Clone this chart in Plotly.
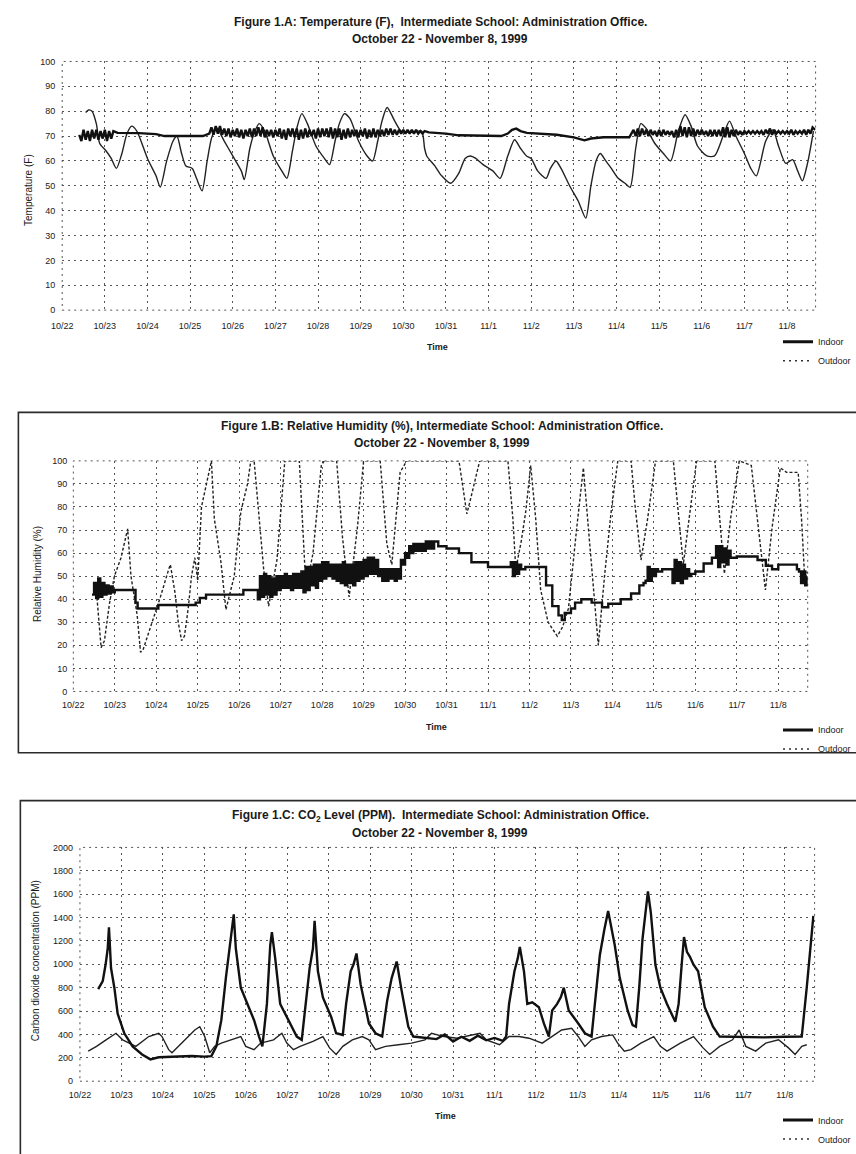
import plotly.graph_objects as go

# ---------------- data (time = days after Oct 22, 00:00) ----------------
DAY_TICKS = [0, 1, 2, 3, 4, 5, 6, 7, 8, 9, 10, 11, 12, 13, 14, 15, 16, 17]
DAY_LABELS = ["10/22", "10/23", "10/24", "10/25", "10/26", "10/27", "10/28", "10/29",
              "10/30", "10/31", "11/1", "11/2", "11/3", "11/4", "11/5", "11/6", "11/7", "11/8"]
TEMP_TICKS = [0, 10, 20, 30, 40, 50, 60, 70, 80, 90, 100]
RH_TICKS = [0, 10, 20, 30, 40, 50, 60, 70, 80, 90, 100]
CO2_TICKS = [0, 200, 400, 600, 800, 1000, 1200, 1400, 1600, 1800, 2000]

# logger readings in the jittery stretches are listed at this interval (days)
READING_STEP = 0.05

# Indoor temperature: slow stretches as (day, value); jittery stretches as (start day, readings)
TEMP_IN_SLOW = [
    (1.25, 71.5), (1.30, 71.3), (1.80, 71.2), (2.20, 70.8), (2.40, 70), (3.30, 70), (3.45, 71),
    (8.6, 71.5), (9.0, 71), (9.3, 70.3), (10.0, 70.2), (10.3, 70), (10.45, 71), (10.55, 72.5),
    (10.65, 73), (10.75, 72), (10.9, 71.3), (11.3, 71), (11.6, 70.5), (12.0, 69.5),
    (12.25, 68.3), (12.4, 69), (12.7, 69.5), (13.3, 69.5), (17.66, 72.5),
]
TEMP_IN_JITTER = [
    (0.40, [70.5, 68, 72.5, 68.5, 72, 68, 72.5, 69, 72.5, 68.5, 72, 69, 72.5, 68, 72, 69, 72]),
    (3.50, [73.5, 70.5, 74, 71, 74, 70.5, 73, 70, 73, 69.5,
            72.5, 70, 73, 69.5, 72.5, 69, 72.5, 70, 73, 69.5,
            73, 70, 73.5, 70, 73.5, 69.5, 72.5, 70, 72.5, 69.5,
            72.5, 70, 73, 69, 72.5, 68.5, 73, 70, 73, 69.5,
            73, 68.5, 72.5, 69, 73, 69.5, 72.5, 70, 72.5, 69,
            73, 69.5, 73, 70, 73, 69.5, 73.5, 69, 73, 69.5,
            73, 68.5, 72.5, 69, 73, 69.5, 72.5, 70, 72.5, 69.5,
            72.5, 70, 73, 69, 72.5, 69.5, 73, 69.5, 72.5, 70,
            72.5, 70, 73, 70.5, 73, 70.5, 72.5, 70.5, 72.5, 71,
            72.5, 71, 72.5, 71, 72.5, 71, 72.5, 71, 72, 71,
            72]),
    (13.40, [72.5, 70, 73, 70, 73, 70.5, 72.5, 70, 72.5, 70.5,
             72, 70, 72.5, 70, 72.5, 70.5, 72, 70.5, 72, 69.5,
             72.5, 69.5, 74, 70, 73.5, 69.5, 73.5, 70, 73, 70,
             72.5, 70.5, 72.5, 70.5, 72, 70, 72.5, 70, 72.5, 70,
             72.5, 70, 73.5, 69.5, 73.5, 69.5, 72.5, 70, 72.5, 70.5,
             72, 70.5, 72, 71, 72, 71, 72, 71, 72, 71,
             72, 70.5, 72.5, 71, 73, 70.5, 72.5, 71, 72, 71,
             72, 71, 72, 71, 72.5, 70.5, 72, 71, 72, 71,
             72.5, 70.5, 72.5, 71, 73.5]),
]

TEMP_OUTDOOR = [
    (0.55, 79.5), (0.62, 80.5), (0.70, 80), (0.80, 75), (0.88, 67), (1.03, 64), (1.15, 61),
    (1.27, 57), (1.40, 63), (1.52, 71), (1.63, 74), (1.75, 72), (2.0, 61), (2.2, 54), (2.3, 49.5),
    (2.45, 60), (2.6, 68), (2.69, 70), (2.8, 63), (2.9, 58), (3.05, 57), (3.15, 53), (3.28, 48),
    (3.4, 60), (3.5, 69), (3.61, 73.5), (3.8, 68), (4.0, 62), (4.2, 56), (4.27, 52.5), (4.4, 65),
    (4.52, 72), (4.62, 75), (4.75, 72), (4.95, 62), (5.15, 56), (5.27, 53), (5.4, 64), (5.5, 73),
    (5.62, 79), (5.75, 75), (5.95, 66), (6.15, 61), (6.27, 58.5), (6.4, 68), (6.5, 75), (6.62, 79),
    (6.75, 77), (6.95, 68), (7.15, 62), (7.28, 60), (7.4, 68), (7.5, 76), (7.62, 81.5), (7.8, 76),
    (7.95, 72), (8.2, 71.5), (8.43, 72), (8.5, 65), (8.55, 62), (8.74, 58), (8.9, 54), (9.11, 51),
    (9.3, 55), (9.45, 61), (9.57, 62), (9.7, 61), (9.87, 58.5), (10.1, 56), (10.27, 53),
    (10.45, 62), (10.61, 68.5), (10.75, 65), (10.89, 62), (11.0, 61), (11.15, 56), (11.35, 53),
    (11.45, 57), (11.58, 60), (11.7, 57), (11.9, 50), (12.1, 44), (12.28, 37), (12.4, 50),
    (12.52, 60), (12.62, 63), (12.75, 60), (12.88, 57), (13.04, 53), (13.2, 51), (13.32, 49.4),
    (13.45, 65), (13.57, 75), (13.7, 73), (13.9, 67), (14.1, 63), (14.27, 60), (14.45, 72),
    (14.61, 78.6), (14.75, 74), (14.9, 66), (15.12, 62), (15.3, 62), (15.5, 70), (15.65, 76),
    (15.8, 70), (16.0, 63), (16.15, 57), (16.28, 54), (16.5, 68), (16.67, 72.5), (16.8, 66),
    (16.97, 59), (17.13, 60.5), (17.25, 56), (17.36, 52), (17.48, 59), (17.62, 72),
]

RH_IN_SLOW = [
    (1.0, 44), (1.45, 44), (1.5, 38.5), (1.55, 36), (2.0, 36), (2.05, 37.5), (2.8, 37.5),
    (2.95, 38.5), (3.05, 40.5), (3.2, 42), (4.0, 42), (4.1, 44), (4.35, 44),
    (8.8, 63), (9.0, 62), (9.3, 60), (9.6, 56), (10.0, 54), (10.5, 54),
    (10.9, 54), (11.25, 54), (11.4, 46), (11.55, 37), (11.7, 33), (11.78, 31), (11.85, 34),
    (12.0, 36), (12.1, 38.5), (12.25, 40), (12.45, 40), (12.5, 38.5), (12.75, 36.5), (12.9, 38),
    (13.2, 40), (13.45, 42.5), (13.65, 46), (13.75, 47), (14.2, 53), (14.35, 53),
    (15.0, 52), (15.2, 55.5), (15.4, 58), (16.0, 58.5), (16.3, 58.5), (16.5, 57), (16.7, 54.5),
    (16.85, 53), (17.0, 55), (17.4, 55), (17.45, 53),
]
RH_IN_JITTER = [
    (0.45, [42, 47, 40.5, 49, 41, 47, 42, 46, 42.5, 45.5, 43]),
    (4.40, [44, 40, 50, 41, 51, 42, 50, 41, 49, 42,
            50, 44, 50, 45, 51, 45, 50, 44, 51, 45,
            51, 45, 52, 43, 54, 44, 54, 46, 55, 45,
            55, 48, 56, 49, 56, 50, 55, 49, 55, 48,
            55, 47, 56, 46, 55, 47, 55, 46, 56, 48,
            56, 49, 57, 50, 58, 51, 58, 51, 57, 50,
            53, 48, 53, 48, 53, 49, 53, 48, 53, 49,
            57, 55, 60, 58, 63, 60, 64, 61, 64, 61,
            64, 61, 65, 62, 65, 62, 65]),
    (10.55, [56, 50, 56, 51, 55, 53]),
    (13.80, [48, 54, 48, 53, 50, 53, 52]),
    (14.40, [53, 47, 57, 48, 56, 47, 55, 49, 53, 50, 51]),
    (15.45, [58, 63, 54, 63, 56, 62, 55, 61, 58]),
    (17.50, [52, 47, 52, 46, 50]),
]

RH_OUTDOOR = [
    (0.55, 45), (0.62, 30), (0.67, 19), (0.75, 22), (0.87, 38), (0.99, 50), (1.15, 58),
    (1.31, 70.5), (1.39, 50), (1.54, 33), (1.62, 17), (1.68, 18), (1.9, 30), (2.1, 41), (2.3, 53),
    (2.34, 55), (2.45, 43), (2.53, 30), (2.61, 22), (2.68, 24), (2.77, 36), (2.85, 50),
    (2.93, 58), (3.0, 48), (3.09, 80), (3.21, 90), (3.33, 100), (3.4, 75), (3.56, 56),
    (3.68, 35.5), (3.88, 50), (4.04, 78), (4.2, 90), (4.28, 100), (4.36, 100), (4.59, 53),
    (4.71, 37), (4.91, 57), (5.03, 85), (5.1, 100), (5.45, 100), (5.58, 55), (5.65, 48),
    (5.78, 60), (5.98, 98), (6.05, 100), (6.35, 100), (6.49, 67), (6.65, 41), (6.85, 71),
    (7.0, 100), (7.4, 100), (7.56, 64), (7.68, 55), (7.88, 95), (8.04, 100), (9.3, 100),
    (9.49, 77), (9.6, 85), (9.8, 100), (10.48, 100), (10.6, 75), (10.67, 53), (10.8, 65),
    (10.91, 78), (11.03, 98), (11.15, 75), (11.27, 44), (11.45, 30), (11.67, 24), (11.8, 28),
    (11.94, 36), (12.14, 71), (12.3, 97), (12.42, 71), (12.58, 36), (12.66, 20), (12.81, 50),
    (12.97, 78), (13.13, 100), (13.45, 100), (13.55, 80), (13.69, 57), (13.85, 75), (14.04, 100),
    (14.47, 100), (14.6, 75), (14.71, 55), (14.85, 75), (15.03, 100), (15.47, 100), (15.6, 70),
    (15.7, 51), (15.85, 75), (16.06, 100), (16.35, 98), (16.5, 75), (16.69, 44), (16.85, 71),
    (17.05, 97), (17.2, 95), (17.48, 95), (17.56, 75), (17.64, 48), (17.7, 52),
]

CO2_INDOOR = [
    (0.44, 787), (0.55, 856), (0.62, 1000), (0.67, 1135), (0.70, 1317), (0.75, 968), (0.83, 800),
    (0.91, 577), (1.07, 410), (1.27, 298), (1.5, 229), (1.7, 187), (1.9, 205), (2.3, 210),
    (2.7, 215), (3.0, 210), (3.17, 215), (3.29, 298), (3.41, 522), (3.52, 884), (3.64, 1219),
    (3.71, 1428), (3.76, 1135), (3.88, 800), (4.04, 661), (4.2, 522), (4.32, 382), (4.4, 298),
    (4.51, 661), (4.59, 1163), (4.63, 1275), (4.71, 1051), (4.83, 661), (5.03, 522), (5.23, 382),
    (5.35, 354), (5.47, 773), (5.54, 968), (5.62, 1135), (5.66, 1372), (5.74, 940), (5.86, 717),
    (6.06, 550), (6.18, 410), (6.34, 396), (6.42, 661), (6.53, 940), (6.6, 1000), (6.67, 1093),
    (6.77, 828), (6.97, 494), (7.13, 410), (7.29, 382), (7.41, 689), (7.52, 884), (7.58, 950),
    (7.64, 1024), (7.76, 773), (7.92, 466), (8.04, 382), (8.32, 368), (8.6, 360), (8.8, 400),
    (9.0, 340), (9.2, 380), (9.4, 345), (9.6, 390), (9.8, 350), (10.0, 370), (10.2, 345),
    (10.28, 382), (10.35, 661), (10.48, 940), (10.56, 1051), (10.61, 1149), (10.71, 940),
    (10.79, 661), (10.91, 675), (11.07, 633), (11.19, 494), (11.31, 382), (11.39, 605),
    (11.51, 661), (11.6, 720), (11.67, 800), (11.79, 605), (12.02, 494), (12.18, 410),
    (12.34, 382), (12.42, 661), (12.54, 1080), (12.65, 1300), (12.74, 1456), (12.9, 1163),
    (13.02, 884), (13.21, 605), (13.33, 480), (13.41, 466), (13.49, 800), (13.57, 1219),
    (13.65, 1498), (13.7, 1623), (13.77, 1442), (13.88, 996), (14.0, 800), (14.16, 661),
    (14.36, 508), (14.44, 661), (14.52, 1024), (14.57, 1233), (14.64, 1107), (14.71, 1066),
    (14.8, 996), (14.91, 940), (15.07, 633), (15.27, 466), (15.43, 382), (16.0, 380),
    (16.5, 375), (17.0, 380), (17.41, 382), (17.53, 800), (17.61, 1080), (17.69, 1414),
]

CO2_OUTDOOR = [
    (0.2, 257), (0.4, 298), (0.63, 354), (0.87, 410), (1.03, 354), (1.35, 298), (1.66, 382),
    (1.9, 410), (1.98, 382), (2.14, 270), (2.22, 243), (2.46, 326), (2.77, 438), (2.89, 466),
    (3.01, 382), (3.13, 243), (3.25, 298), (3.41, 326), (3.88, 382), (4.0, 298), (4.2, 270),
    (4.36, 326), (4.67, 354), (4.87, 410), (4.99, 326), (5.15, 270), (5.31, 298), (5.62, 340),
    (5.86, 382), (6.02, 285), (6.18, 229), (6.34, 298), (6.57, 354), (6.81, 382), (6.97, 354),
    (7.13, 270), (7.37, 298), (7.68, 312), (8.0, 326), (8.32, 354), (8.48, 410), (8.78, 382),
    (9.09, 368), (9.65, 410), (9.8, 354), (10.12, 312), (10.35, 382), (10.59, 382), (10.83, 368),
    (11.15, 326), (11.39, 382), (11.62, 438), (11.86, 452), (12.02, 382), (12.18, 298),
    (12.34, 354), (12.58, 382), (12.85, 396), (12.97, 326), (13.13, 257), (13.29, 270),
    (13.53, 326), (13.84, 382), (14.0, 298), (14.16, 257), (14.48, 326), (14.8, 382),
    (15.03, 285), (15.19, 229), (15.43, 298), (15.74, 354), (15.9, 438), (16.06, 298),
    (16.3, 257), (16.54, 326), (16.85, 354), (17.09, 285), (17.25, 229), (17.41, 298),
    (17.53, 312),
]

TITLES = [
    ("Figure 1.A: Temperature (F),  Intermediate School: Administration Office.",
     "October 22 - November 8, 1999"),
    ("Figure 1.B: Relative Humidity (%), Intermediate School: Administration Office.",
     "October 22 - November 8, 1999"),
    ("Figure 1.C: CO<sub>2</sub> Level (PPM).  Intermediate School: Administration Office.",
     "October 22 - November 8, 1999"),
]
Y_TITLES = ["Temperature (F)", "Relative Humidity (%)", "Carbon dioxide concentration (PPM)"]
X_TITLE = "Time"
SERIES_NAMES = ["Indoor", "Outdoor"]


def merge(slow, jitter):
    """Combine slow (day, value) points with regularly logged jittery stretches."""
    pts = list(slow)
    for start, readings in jitter:
        for k, v in enumerate(readings):
            pts.append((round(start + k * READING_STEP, 3), v))
    pts.sort(key=lambda p: p[0])
    return pts


TEMP_INDOOR = merge(TEMP_IN_SLOW, TEMP_IN_JITTER)
RH_INDOOR = merge(RH_IN_SLOW, RH_IN_JITTER)

# ---------------- layout helpers ----------------
W, H = 856, 1154
FONT = "Liberation Sans, Arial, Helvetica, sans-serif"
INK = "#1a1a1a"
GRID = "#555555"
GRID_DASH = "2px,4px"


def fx(px):
    return px / W


def fy(py):
    return 1 - py / H


def split(pairs):
    return [p[0] for p in pairs], [p[1] for p in pairs]


PANELS = [
    dict(l=52, r=817, t=57.3, b=309.7, xmax=17.67, yrange=[0, 100], yt=TEMP_TICKS,
         xstand=9, ystand=6, title_y=(17, 35), title_x=436, ytitle=(18, 188),
         xtitle=(433, 347), leg=327, in_shape="linear", out_shape="spline"),
    dict(l=63.3, r=809, t=462.7, b=696.7, xmax=17.71, yrange=[0, 100], yt=RH_TICKS,
         xstand=7, ystand=5, title_y=(427, 445), title_x=438, ytitle=(27, 578),
         xtitle=(432, 733), leg=721, in_shape="hv", out_shape="linear"),
    dict(l=70, r=816, t=855, b=1092.3, xmax=17.72, yrange=[0, 2000], yt=CO2_TICKS,
         xstand=7, ystand=6, title_y=(823, 840), title_x=436, ytitle=(25, 970),
         xtitle=(441, 1128), leg=1117, in_shape="linear", out_shape="linear"),
]

DATA = [(TEMP_INDOOR, TEMP_OUTDOOR, "solid"),
        (RH_INDOOR, RH_OUTDOOR, "3px,2px"),
        (CO2_INDOOR, CO2_OUTDOOR, "solid")]

fig = go.Figure()
annotations = []
shapes = []
layout_axes = {}

for i, (panel, (ind, outd, odash)) in enumerate(zip(PANELS, DATA)):
    n = "" if i == 0 else str(i + 1)
    xa, ya = "x" + n, "y" + n
    leg = "legend" + n

    xi, yi = split(ind)
    xo, yo = split(outd)
    out_line = dict(color="#222222", width=1.4, dash=odash, shape=panel["out_shape"])
    if panel["out_shape"] == "spline":
        out_line["smoothing"] = 0.7
    fig.add_trace(go.Scatter(x=xo, y=yo, mode="lines", xaxis=xa, yaxis=ya, line=out_line,
                             showlegend=False, hoverinfo="skip"))
    fig.add_trace(go.Scatter(x=xi, y=yi, mode="lines", xaxis=xa, yaxis=ya,
                             line=dict(color="#111111", width=2.4, shape=panel["in_shape"]),
                             showlegend=False, hoverinfo="skip"))
    # legend keys
    fig.add_trace(go.Scatter(x=[None], y=[None], mode="lines", xaxis=xa, yaxis=ya,
                             name=SERIES_NAMES[0], legend=leg,
                             line=dict(color="#111111", width=3)))
    fig.add_trace(go.Scatter(x=[None], y=[None], mode="lines", xaxis=xa, yaxis=ya,
                             name=SERIES_NAMES[1], legend=leg,
                             line=dict(color="#333333", width=1.5, dash="2px,4px")))

    layout_axes["xaxis" + n] = dict(
        domain=[fx(panel["l"]), fx(panel["r"])], range=[0, panel["xmax"]], anchor=ya,
        tickmode="array", tickvals=DAY_TICKS, ticktext=DAY_LABELS,
        showgrid=True, gridcolor=GRID, griddash=GRID_DASH, gridwidth=1,
        zeroline=False, showline=False, ticks="", ticklabelstandoff=panel["xstand"],
        tickfont=dict(family=FONT, size=9, color=INK), fixedrange=True)
    layout_axes["yaxis" + n] = dict(
        domain=[fy(panel["b"]), fy(panel["t"])], range=panel["yrange"], anchor=xa,
        tickmode="array", tickvals=panel["yt"],
        showgrid=True, gridcolor=GRID, griddash=GRID_DASH, gridwidth=1,
        zeroline=False, showline=False, ticks="", ticklabelstandoff=panel["ystand"],
        tickfont=dict(family=FONT, size=9, color=INK), fixedrange=True)

    shapes.append(dict(type="rect", xref=xa + " domain", yref=ya + " domain",
                       x0=0, x1=1, y0=0, y1=1, layer="below",
                       line=dict(color=GRID, width=1, dash=GRID_DASH)))

    t1, t2 = TITLES[i]
    for txt, yy in zip((t1, t2), panel["title_y"]):
        annotations.append(dict(text="<b>" + txt + "</b>", x=fx(panel["title_x"]), y=fy(yy),
                                xref="paper", yref="paper", showarrow=False,
                                xanchor="center", yanchor="middle",
                                font=dict(family=FONT, size=12, color=INK)))
    annotations.append(dict(text=Y_TITLES[i], x=fx(panel["ytitle"][0]), y=fy(panel["ytitle"][1]),
                            xref="paper", yref="paper", showarrow=False, textangle=-90,
                            xanchor="center", yanchor="middle",
                            font=dict(family=FONT, size=10, color=INK)))
    annotations.append(dict(text="<b>" + X_TITLE + "</b>", x=fx(panel["xtitle"][0]),
                            y=fy(panel["xtitle"][1]), xref="paper", yref="paper",
                            showarrow=False, xanchor="center", yanchor="middle",
                            font=dict(family=FONT, size=9, color=INK)))

    layout_axes[leg] = dict(x=fx(779), y=fy(panel["leg"]), xanchor="left", yanchor="top",
                            bgcolor="rgba(0,0,0,0)", borderwidth=0, tracegroupgap=0,
                            font=dict(family=FONT, size=9, color=INK), itemwidth=30,
                            orientation="v")

# solid frames around panels B and C (as in the scan)
shapes.append(dict(type="rect", xref="paper", yref="paper", x0=fx(7.5), x1=fx(870),
                   y0=fy(759), y1=fy(413.5), line=dict(color="#2b2b2b", width=1.6)))
shapes.append(dict(type="rect", xref="paper", yref="paper", x0=fx(9.5), x1=fx(870),
                   y0=fy(1170), y1=fy(807.5), line=dict(color="#2b2b2b", width=1.6)))

fig.update_layout(
    width=W, height=H, margin=dict(l=0, r=0, t=0, b=0),
    paper_bgcolor="white", plot_bgcolor="white",
    font=dict(family=FONT, size=9, color=INK),
    annotations=annotations, shapes=shapes, **layout_axes,
)

fig.write_html("out.html")
